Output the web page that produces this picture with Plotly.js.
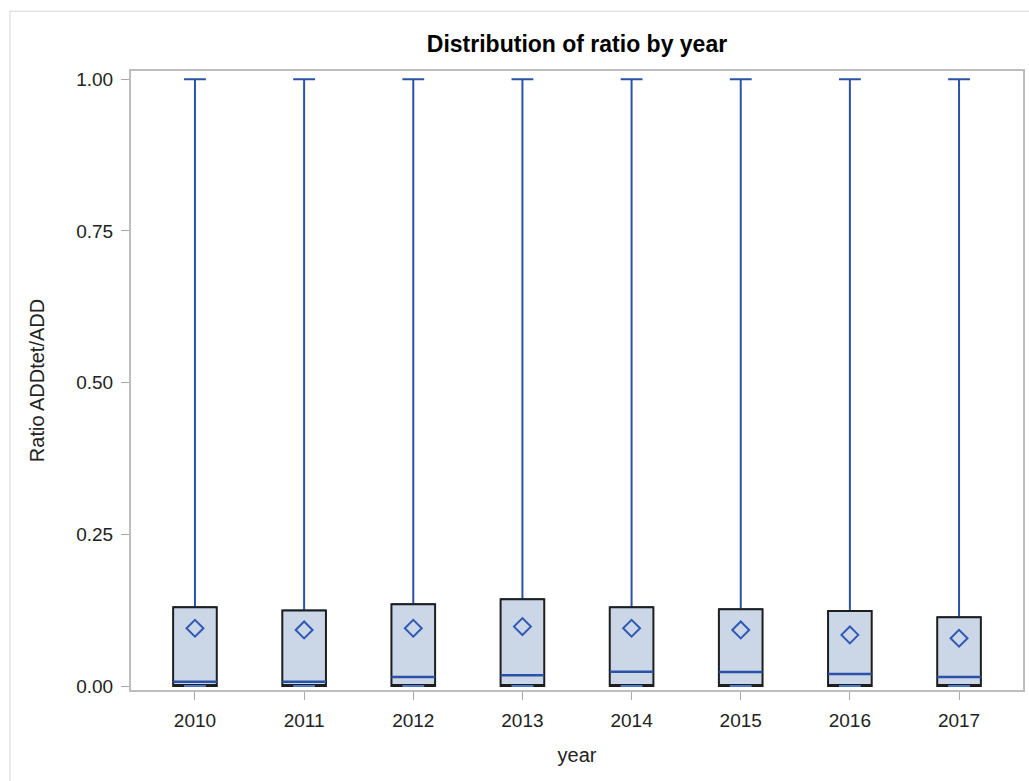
<!DOCTYPE html>
<html>
<head>
<meta charset="utf-8">
<script src="https://cdn.plot.ly/plotly-3.0.1.min.js"></script>
<style>html,body{margin:0;padding:0;background:#fff;}#chart{width:1029px;height:781px;}</style>
</head>
<body>
<div id="chart"></div>
<script>
// Data
const years     = ['2010','2011','2012','2013','2014','2015','2016','2017'];
const minVals   = [0, 0, 0, 0, 0, 0, 0, 0];
const q1Vals    = [0, 0, 0, 0, 0, 0, 0, 0];
const medVals   = [0.0071, 0.0071, 0.0149, 0.0177, 0.0236, 0.0231, 0.0198, 0.0149];
const q3Vals    = [0.1299, 0.1243, 0.1348, 0.1431, 0.1299, 0.1266, 0.1238, 0.1134];
const maxVals   = [1, 1, 1, 1, 1, 1, 1, 1];
const meanVals  = [0.0952, 0.0924, 0.0952, 0.0979, 0.0952, 0.0924, 0.0842, 0.0787];
const yTickVals = [0, 0.25, 0.5, 0.75, 1.0];
const yTickText = ['0.00', '0.25', '0.50', '0.75', '1.00'];

const BLUE = '#2A52A8';
const FONT = 'Liberation Sans, Arial, sans-serif';

// upper whiskers (from Q3 to max) with cap
const whisk = {
  type: 'box', x: years, q1: q3Vals, median: q3Vals, q3: q3Vals,
  lowerfence: q3Vals, upperfence: maxVals,
  width: 0.4, whiskerwidth: 0.5,
  line: {color: BLUE, width: 2}, fillcolor: 'rgba(0,0,0,0)',
  hoverinfo: 'skip', showlegend: false
};
// box body (Q1 to Q3) with black outline
const body = {
  type: 'box', x: years, q1: q1Vals, median: q1Vals, q3: q3Vals,
  lowerfence: q1Vals, upperfence: q3Vals,
  width: 0.4, whiskerwidth: 0,
  line: {color: '#1E1E1E', width: 2}, fillcolor: '#CBD6E6',
  hoverinfo: 'skip', showlegend: false
};
// median line
const med = {
  type: 'box', x: years, q1: medVals, median: medVals, q3: medVals,
  lowerfence: medVals, upperfence: medVals,
  width: 0.4, whiskerwidth: 0,
  line: {color: BLUE, width: 2.5}, fillcolor: 'rgba(0,0,0,0)',
  hoverinfo: 'skip', showlegend: false
};
// lower cap at minimum
const lowCap = {
  type: 'box', x: years, q1: minVals, median: minVals, q3: minVals,
  lowerfence: minVals, upperfence: minVals,
  width: 0.2, whiskerwidth: 0,
  line: {color: '#4F78CF', width: 2}, fillcolor: 'rgba(0,0,0,0)',
  hoverinfo: 'skip', showlegend: false
};
// means
const means = {
  type: 'scatter', mode: 'markers', x: years, y: meanVals,
  marker: {symbol: 'diamond-open', size: 13, color: '#3059B5', line: {color: '#3059B5', width: 2}},
  hoverinfo: 'skip', showlegend: false
};

const layout = {
  width: 1029, height: 781,
  margin: {l: 131, r: 6, t: 71, b: 91, pad: 0},
  paper_bgcolor: '#fff', plot_bgcolor: '#fff',
  boxmode: 'overlay',
  font: {family: FONT, color: '#222', size: 19},
  title: {
    text: 'Distribution of ratio by year',
    font: {family: FONT, size: 23, color: '#000', weight: 'bold'},
    x: 0.5, xref: 'paper', xanchor: 'center',
    y: 1 - 44/781, yref: 'container', yanchor: 'middle'
  },
  xaxis: {
    type: 'category', range: [-0.586, 7.586],
    showgrid: false, zeroline: false,
    showline: true, linecolor: '#BDBDBD', linewidth: 2, mirror: true,
    ticks: 'outside', ticklen: 8, tickcolor: '#A8A8A8', tickwidth: 1,
    ticklabelstandoff: 4,
    tickfont: {family: FONT, size: 19, color: '#222'},
    title: {text: 'year', font: {family: FONT, size: 20, color: '#222'}, standoff: 18}
  },
  yaxis: {
    range: [-0.0066, 1.0137],
    tickvals: yTickVals, ticktext: yTickText,
    showgrid: false, zeroline: false,
    showline: true, linecolor: '#BDBDBD', linewidth: 2, mirror: true,
    ticks: 'outside', ticklen: 8, tickcolor: '#A8A8A8', tickwidth: 1,
    ticklabelstandoff: 4,
    tickfont: {family: FONT, size: 19, color: '#222'},
    title: {text: 'Ratio ADDtet/ADD', font: {family: FONT, size: 20, color: '#222'}, standoff: 26}
  },
  shapes: [{
    type: 'rect', xref: 'paper', yref: 'paper',
    x0: -0.1357, x1: 1.05, y0: -0.2, y1: 1.0966,
    line: {color: '#D3D3D3', width: 1}, fillcolor: 'rgba(0,0,0,0)', layer: 'below'
  }]
};

Plotly.newPlot('chart', [whisk, body, med, lowCap, means], layout, {displayModeBar: false, staticPlot: true});
</script>
</body>
</html>
